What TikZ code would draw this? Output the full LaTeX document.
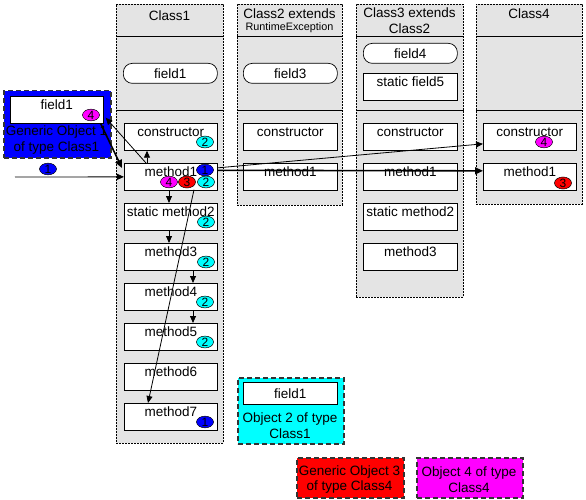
\documentclass[tikz,border=0pt]{standalone}
\usepackage{fontspec}
\setmainfont{Liberation Sans}
\usetikzlibrary{arrows.meta,calc,shapes.geometric}
\definecolor{colgray}{HTML}{E4E4E4}
\definecolor{pblue}{HTML}{0000FF}
\definecolor{pcyan}{HTML}{00FFFF}
\definecolor{pred}{HTML}{FF0000}
\definecolor{pmag}{HTML}{FF00FF}
\newcommand{\fs}{\fontsize{13.5}{15.5}\selectfont}
\tikzset{
  colbox/.style={draw, fill=colgray, line width=0.6pt, dash pattern=on 2pt off 1pt, inner sep=0pt, anchor=north west},
  sepline/.style={line width=0.8pt},
  hdr/.style={font=\fs, align=center, inner sep=0pt},
  mbox/.style={draw, fill=white, line width=0.7pt, minimum width=93pt, inner sep=0pt, text height=13pt, text depth=14pt, anchor=north west, font=\fs},
  pill/.style={draw, fill=white, line width=0.7pt, rounded corners=9pt, minimum width=94pt, minimum height=20pt, inner sep=0pt, anchor=north west, font=\fs},
  objbox/.style={draw=black!80, line width=1.5pt, dash pattern=on 5pt off 3pt, inner sep=0pt, anchor=north west},
  objtxt/.style={font=\fs, align=center, inner sep=0pt},
  badge/.style={ellipse, draw, line width=0.5pt, minimum width=17pt, minimum height=10.5pt, inner sep=0pt, font=\fontsize{12}{12}\selectfont},
  arr/.style={line width=0.8pt, -{Triangle[length=7pt,width=6pt]}},
  thickarr/.style={line width=1.6pt, -{Triangle[length=8pt,width=7pt]}}
}
\begin{document}
\begin{tikzpicture}[x=1pt,y=-1pt]
\useasboundingbox (0,0) rectangle (586,500);

% columns
\node[colbox, minimum width=107pt, minimum height=439pt] (col1) at (116,4) {};
\node[colbox, minimum width=105pt, minimum height=201pt] (col2) at (237,4) {};
\node[colbox, minimum width=107pt, minimum height=293pt] (col3) at (356,4) {};
\node[colbox, minimum width=106pt, minimum height=200pt] (col4) at (476,4) {};
\foreach \c in {col1,col2,col3,col4}{
  \draw[sepline] ($(\c.north west)+(0,32)$) -- ($(\c.north east)+(0,32)$);
  \draw[sepline] ($(\c.north west)+(0,106)$) -- ($(\c.north east)+(0,106)$);
}

% headers
\node[hdr] (h1) at (169.5,16) {Class1};
\node[hdr] (h2a) at (289.5,14) {Class2 extends};
\node[hdr, font=\fontsize{10.8}{12}\selectfont] (h2b) at (289.5,27.5) {RuntimeException};
\node[hdr] (h3) at (409.5,20.5) {Class3 extends\\Class2};
\node[hdr] (h4) at (529,14) {Class4};

% fields
\node[pill] (c1f1) at (123,63) {field1};
\node[pill] (c2f3) at (243,63) {field3};
\node[pill] (c3f4) at (363,43) {field4};
\node[mbox, minimum width=94pt] (c3f5) at (363,73) {static field5};

% Class1 methods
\node[mbox] (c1c)   at (124,123) {constructor};
\node[mbox] (c1m1)  at (124,163) {method1};
\node[mbox] (c1sm2) at (124,203) {static method2};
\node[mbox] (c1m3)  at (124,243) {method3};
\node[mbox] (c1m4)  at (124,283) {method4};
\node[mbox] (c1m5)  at (124,323) {method5};
\node[mbox] (c1m6)  at (124,363) {method6};
\node[mbox] (c1m7)  at (124,403) {method7};

% Class2 methods
\node[mbox, minimum width=94pt] (c2c)  at (243,123) {constructor};
\node[mbox, minimum width=94pt] (c2m1) at (243,163) {method1};

% Class3 methods
\node[mbox, minimum width=94pt] (c3c)   at (363,123) {constructor};
\node[mbox, minimum width=94pt] (c3m1)  at (363,163) {method1};
\node[mbox, minimum width=94pt] (c3sm2) at (363,203) {static method2};
\node[mbox, minimum width=94pt] (c3m3)  at (363,243) {method3};

% Class4 methods
\node[mbox] (c4c)  at (483,123) {constructor};
\node[mbox] (c4m1) at (483,163) {method1};

% objects
\node[objbox, fill=pblue, minimum width=107pt, minimum height=67pt] (g1) at (3,90) {};
\node[mbox, minimum width=93pt] (g1f) at (10,96) {field1};
\node[objtxt] (g1t) at (56.5,140) {Generic Object 1\\of type Class1};

\node[objbox, fill=pcyan, minimum width=106pt, minimum height=66pt] (o2) at (237,377) {};
\node[draw, fill=white, line width=0.7pt, minimum width=94pt, minimum height=22pt, inner sep=0pt, anchor=north west, font=\fs] (o2f) at (243,382) {field1};
\node[objtxt] (o2t) at (290,425.5) {Object 2 of type\\Class1};

\node[objbox, fill=pred, minimum width=107pt, minimum height=40pt] (o3) at (296,457) {};
\node[objtxt] (o3t) at (349.5,479.5) {Generic Object 3\\of type Class4};

\node[objbox, fill=pmag, minimum width=106pt, minimum height=40pt] (o4) at (416,457) {};
\node[objtxt] (o4t) at (469,479.5) {Object 4 of type\\Class4};

% connectors
\coordinate (inL) at (15,177);
\draw[arr] (inL) -- (c1m1.west);
\draw[thickarr] ($(g1f.south east)+(-3,0)$) -- ($(c1m1.north west)+(-2,5)$);
\draw[arr] ($(c1m1.north west)+(22,0)$) -- ($(g1f.south east)+(2,-6)$);
\draw[arr] ($(c1m1.north west)+(23,0)$) -- ($(c1c.south west)+(23,0)$);
\draw[arr] ($(c1m1.south west)+(45,0)$) -- ($(c1sm2.north west)+(45,0)$);
\draw[arr] ($(c1sm2.south west)+(45,0)$) -- ($(c1m3.north west)+(45,0)$);
\draw[arr] ($(c1m3.south west)+(69,0)$) -- ($(c1m4.north west)+(69,0)$);
\draw[arr] ($(c1m4.south west)+(69,0)$) -- ($(c1m5.north west)+(69,0)$);
\draw[arr] ($(c1m1.south west)+(70,-1)$) -- ($(c1m7.north west)+(24,0)$);
\draw[thickarr] ($(c1m1.east)+(0,-6.5)$) -- ($(c4m1.west)+(0,-6)$);
\draw[arr] ($(c1m1.east)+(0,-9)$) -- ($(c4c.west)+(0,7)$);

% badges
\node[badge, fill=pmag] (b14) at (91,115) {4};
\node[badge, fill=pblue] (bin) at (48,169) {1};
\node[badge, fill=pcyan] (bc) at (205,142) {2};
\node[badge, fill=pblue] (bm1a) at (205,170) {1};
\node[badge, fill=pmag] (bm1b) at (169,182) {4};
\node[badge, fill=pred] (bm1c) at (187,182) {3};
\node[badge, fill=pcyan] (bm1d) at (206,182) {2};
\node[badge, fill=pcyan] (bsm2) at (206,222) {2};
\node[badge, fill=pcyan] (bm3) at (206,262) {2};
\node[badge, fill=pcyan] (bm4) at (205,302) {2};
\node[badge, fill=pcyan] (bm5) at (205,342) {2};
\node[badge, fill=pblue] (bm7) at (205,422) {1};
\node[badge, fill=pmag] (bc4c) at (544,142) {4};
\node[badge, fill=pred] (bc4m) at (563,183) {3};
\end{tikzpicture}
\end{document}
